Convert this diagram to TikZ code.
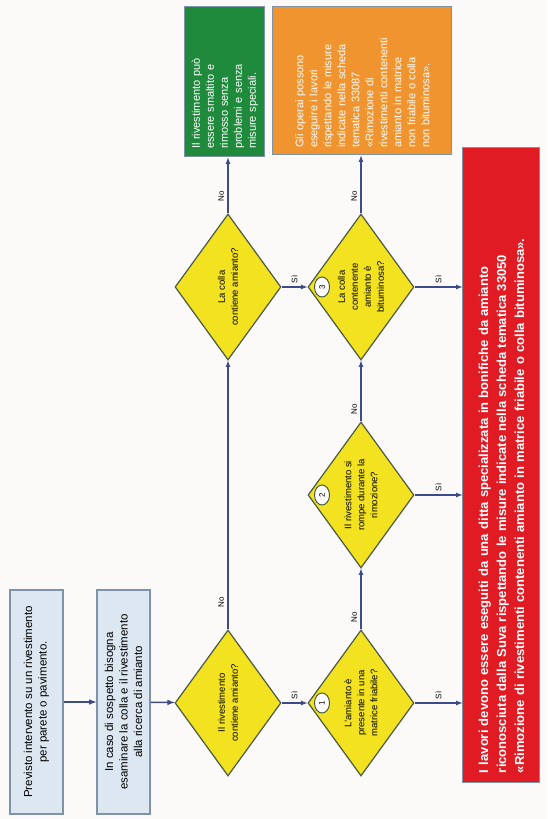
\documentclass[tikz,border=0pt]{standalone}
\usepackage{fontspec}
\setmainfont{Liberation Sans}
\usetikzlibrary{shapes.geometric, arrows}

\definecolor{bgcol}{HTML}{FCFAF8}
\definecolor{linecol}{HTML}{3D4B8A}
\definecolor{boxfill}{HTML}{DCE7F1}
\definecolor{boxline}{HTML}{7F93A8}
\definecolor{qfill}{HTML}{F3E21F}
\definecolor{qline}{HTML}{4B5A44}
\definecolor{okgreen}{HTML}{1F8A3B}
\definecolor{warnorange}{HTML}{EF942E}
\definecolor{stopred}{HTML}{E11B24}

\begin{document}
\begin{tikzpicture}[x=1pt,y=1pt,rotate=90,transform shape,>=latex,
  stepbox/.style={draw=boxline,fill=boxfill,line width=1.2pt,minimum width=224pt,minimum height=53pt,align=center,font=\fontsize{11.5}{14.5}\selectfont},
  question/.style={diamond,draw=qline,fill=qfill,line width=1.2pt,inner sep=0pt,minimum width=146pt,minimum height=106pt,align=center,font=\fontsize{9.5}{13}\selectfont},
  endbox/.style={draw=boxline,line width=1pt,text=white,align=left,font=\fontsize{11}{14}\selectfont},
  num/.style={ellipse,draw=qline,fill=white,line width=1pt,inner sep=0pt,minimum width=20pt,minimum height=15pt,font=\fontsize{8}{8}\selectfont},
  lbl/.style={font=\fontsize{8}{8}\selectfont}]

\fill[bgcol] (0,0) rectangle (819,547);

\node[stepbox] (A) at (117,510.5) {Previsto intervento su un rivestimento\\per parete o pavimento.};
\node[stepbox] (B) at (117,423.5) {In caso di sospetto bisogna\\esaminare la colla e il rivestimento\\alla ricerca di amianto};

\node[question] (D) at (116,319) {Il rivestimento\\contiene amianto?};
\node[question] (T) at (532,319) {La colla\\contiene amianto?};

\node[question] (E1) at (116,186) {L'amianto è\\presente in una\\matrice friabile?};
\node[question] (E2) at (324,186) {Il rivestimento si\\rompe durante la\\rimozione?};
\node[question] (E3) at (532,186) {La colla\\contenente\\amianto è\\bituminosa?};

\node[num] (n1) at (116,225) {1};
\node[num] (n2) at (324,225) {2};
\node[num] (n3) at (532,225) {3};

\node[endbox,fill=okgreen,minimum width=150pt,minimum height=80pt,text width=134pt] (G) at (737,322) {Il rivestimento può\\essere smaltito e\\rimosso senza\\problemi e senza\\misure speciali.};
\node[endbox,fill=warnorange,minimum width=148pt,minimum height=179pt,text width=134pt] (O) at (738,184.5) {Gli operai possono\\eseguire i lavori\\rispettando le misure\\indicate nella scheda\\tematica 33087\\«Rimozione di\\rivestimenti contenenti\\amianto in matrice\\non friabile o colla\\non bituminosa».};
\node[endbox,fill=stopred,minimum width=635pt,minimum height=77pt,text width=615pt,font=\fontsize{13}{18}\selectfont\bfseries] (R) at (353.5,45.5) {I lavori devono essere eseguiti da una ditta specializzata in bonifiche da amianto\\riconosciuta dalla Suva rispettando le misure indicate nella scheda tematica 33050\\«Rimozione di rivestimenti contenenti amianto in matrice friabile o colla bituminosa».};

\draw[->,linecol,line width=1.5pt] (A) -- (B);
\draw[->,linecol,line width=1.5pt] (B) -- (D);

\draw[->,linecol,line width=1.2pt] (D.east) -- (T.west) node[lbl,text=black,pos=.1,above] {No};
\draw[->,linecol,line width=1.2pt] (D.south) -- (E1.north) node[lbl,text=black,midway,right] {Sì};
\draw[->,linecol,line width=1.2pt] (E1.east) -- (E2.west) node[lbl,text=black,pos=.2,above] {No};
\draw[->,linecol,line width=1.2pt] (E2.east) -- (E3.west) node[lbl,text=black,pos=.2,above] {No};
\draw[->,linecol,line width=1.2pt] (T.south) -- (E3.north) node[lbl,text=black,midway,right] {Sì};
\draw[->,linecol,line width=1.2pt] (T.east) -- (T.east -| G.west) node[lbl,text=black,pos=.3,above] {No};
\draw[->,linecol,line width=1.2pt] (E3.east) -- (E3.east -| O.west) node[lbl,text=black,pos=.3,above] {No};

\draw[->,linecol,line width=1.2pt] (E1.south) -- (E1.south |- R.north) node[lbl,text=black,midway,right] {Sì};
\draw[->,linecol,line width=1.2pt] (E2.south) -- (E2.south |- R.north) node[lbl,text=black,midway,right] {Sì};
\draw[->,linecol,line width=1.2pt] (E3.south) -- (E3.south |- R.north) node[lbl,text=black,midway,right] {Sì};
\end{tikzpicture}
\end{document}
